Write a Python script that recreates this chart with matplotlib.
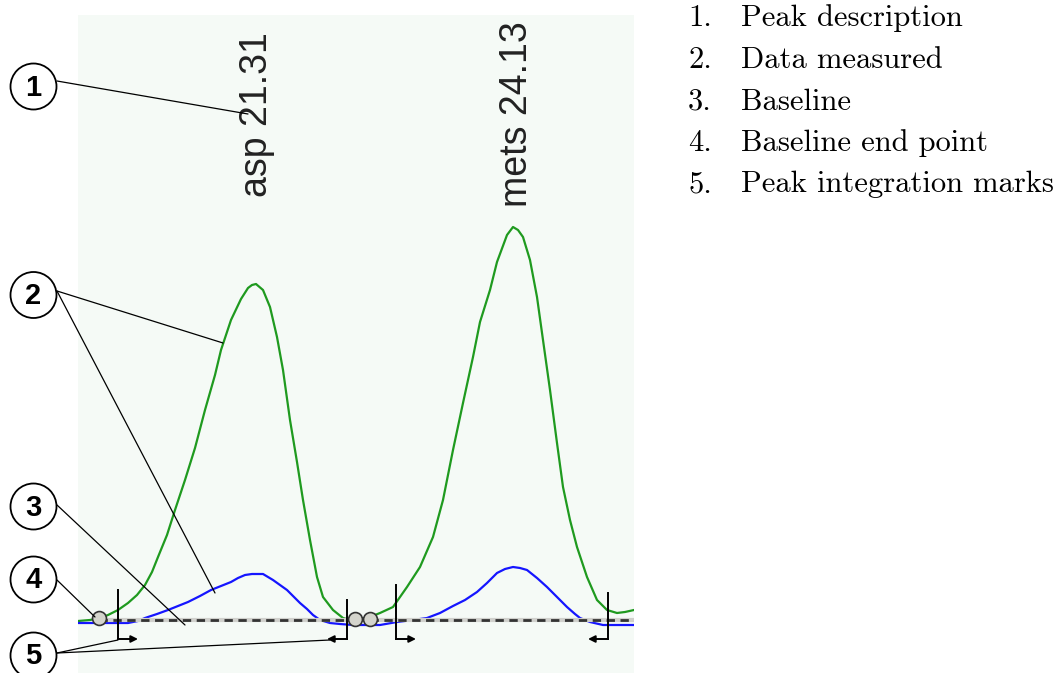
import matplotlib.pyplot as plt
from matplotlib.patches import Circle, ConnectionPatch

# retention time (min) and detector signal
green_t = [19.350, 19.482, 19.592, 19.680, 19.790, 19.900, 19.999, 20.087, 20.164, 20.230,
           20.329, 20.417, 20.527, 20.637, 20.747, 20.857, 20.923, 21.033, 21.143, 21.220,
           21.264, 21.308, 21.385, 21.462, 21.539, 21.605, 21.682, 21.759, 21.825, 21.902,
           21.979, 22.045, 22.155, 22.265, 22.342, 22.452, 22.562, 22.672, 22.815, 22.969,
           23.112, 23.255, 23.365, 23.475, 23.585, 23.695, 23.772, 23.882, 23.959, 24.069,
           24.135, 24.190, 24.245, 24.322, 24.399, 24.465, 24.542, 24.619, 24.685, 24.762,
           24.839, 24.949, 25.059, 25.169, 25.279, 25.367, 25.466]
green_s = [-1, 0, 2, 5, 10, 17, 25, 35, 48, 63,
           85, 110, 140, 172, 210, 245, 270, 300, 321, 332,
           335, 336, 330, 313, 283, 250, 200, 158, 120, 80,
           43, 23, 10, 2, 0, 1, 3, 7, 13, 33,
           53, 83, 120, 170, 217, 263, 298, 330, 358, 385,
           393, 390, 383, 360, 323, 280, 230, 177, 133, 100,
           73, 43, 20, 10, 7, 8, 10]

blue_t = [19.350, 19.592, 19.900, 20.010, 20.087, 20.219, 20.340, 20.450, 20.560, 20.692,
          20.813, 20.923, 21.033, 21.110, 21.187, 21.264, 21.330, 21.385, 21.440, 21.495,
          21.572, 21.649, 21.715, 21.792, 21.869, 21.935, 22.012, 22.122, 22.232, 22.375,
          22.672, 22.859, 23.035, 23.189, 23.332, 23.475, 23.607, 23.739, 23.849, 23.959,
          24.047, 24.135, 24.212, 24.289, 24.399, 24.509, 24.619, 24.729, 24.817, 24.872,
          24.982, 25.125, 25.466]
blue_s = [-3, -3, -3, -1, 2, 6, 10, 14, 18, 24,
          30, 34, 38, 42, 45, 46, 46, 46, 43, 40,
          35, 30, 24, 17, 11, 5, 0, -3, -4, -5,
          -5, -2, 0, 2, 7, 14, 20, 28, 37, 47,
          51, 53, 52, 50, 42, 33, 23, 13, 6, 2,
          -2, -5, -5]

# baseline segments (start, end) and their end points
base_segments = [(19.581, 22.397), (22.562, 25.466)]
end_t = [19.581, 22.397, 22.562]
end_s = [2, 1, 1]

# peak integration marks: time, direction (+1 start, -1 end), top of tick
mark_t = [19.790, 22.309, 22.848, 25.180]
mark_dir = [1, -1, 1, -1]
mark_top = [30, 20, 35, 27]

# peak descriptions
peak_names = ["asp 21.31", "mets 24.13"]
peak_label_t = [21.319, 24.179]
peak_label_s = [423, 413]

legend_items = ["Peak description", "Data measured", "Baseline",
                "Baseline end point", "Peak integration marks"]

fig = plt.figure(figsize=(10.61, 6.73), dpi=100)
ax = fig.add_axes([78 / 1061, 0, 556 / 1061, 658 / 673])
ax.set_facecolor("#f5faf6")
ax.set_xlim(19.35, 25.466)
ax.set_ylim(-53, 605)
ax.set_xticks([])
ax.set_yticks([])
for sp in ax.spines.values():
    sp.set_visible(False)

ax.plot(green_t, green_s, color="#1f9a1f", lw=1.6, zorder=3)
ax.plot(blue_t, blue_s, color="#1515ff", lw=1.6, zorder=3)

for t0, t1 in base_segments:
    ax.plot([t0, t1], [0, 0], color="#d0d0cc", lw=3, zorder=4, solid_capstyle="butt")
    ax.plot([t0, t1], [0, 0], color="#333333", lw=2, ls=(0, (3, 2)), zorder=4)

ax.plot(end_t, end_s, "o", ms=10, mfc="#d4d4cc", mec="#333333", mew=1.2, zorder=6)

for t, d, top in zip(mark_t, mark_dir, mark_top):
    ax.plot([t, t], [top, -19], color="black", lw=1.4, zorder=5)
    ax.annotate("", xy=(t + d * 0.22, -19), xytext=(t, -19),
                arrowprops=dict(arrowstyle="-|>", lw=1.4, color="black",
                                mutation_scale=10, shrinkA=0, shrinkB=0), zorder=5)

for name, t, s in zip(peak_names, peak_label_t, peak_label_s):
    ax.text(t, s, name, rotation=90, ha="center", va="bottom",
            family="Liberation Sans", fontsize=27, color="#222222")

# overlay in pixel units for the numbered callouts
ov = fig.add_axes([0, 0, 1, 1], zorder=10)
ov.set_xlim(0, 1061)
ov.set_ylim(673, 0)
ov.axis("off")
ov.patch.set_alpha(0)

callouts = [(33.5, 86.5), (33.5, 295), (33.5, 506.5), (33.5, 579.5), (33.5, 655.5)]
for i, (cx, cy) in enumerate(callouts):
    ov.add_patch(Circle((cx, cy), 23, facecolor="white", edgecolor="black", lw=1.3))
    ov.text(cx, cy + 1, str(i + 1), ha="center", va="center",
            family="Liberation Sans", fontweight="bold", fontsize=21)

# leader lines: (start on callout, target in data coords)
leaders = [
    ((57, 81), (21.22, 506)),
    ((57, 291), (20.945, 277)),
    ((57, 291), (20.857, 27)),
    ((57, 505), (20.527, -5)),
    ((57, 580), (19.537, 3)),
    ((57, 653), (19.790, -20)),
    ((57, 653), (22.122, -20)),
]
for start, target in leaders:
    con = ConnectionPatch(xyA=start, coordsA=ov.transData, xyB=target,
                          coordsB=ax.transData, color="black", lw=0.9)
    fig.add_artist(con)

# numbered list on the right
baselines = [26.5, 68, 109.5, 151, 192.5]
for i, (item, yb) in enumerate(zip(legend_items, baselines)):
    fig.text(688 / 1061, 1 - yb / 673, f"{i + 1}.", family="cmr10",
             fontsize=22, va="baseline", ha="left")
    fig.text(741 / 1061, 1 - yb / 673, item, family="cmr10",
             fontsize=22, va="baseline", ha="left")

fig.savefig("out.png", dpi=100)
